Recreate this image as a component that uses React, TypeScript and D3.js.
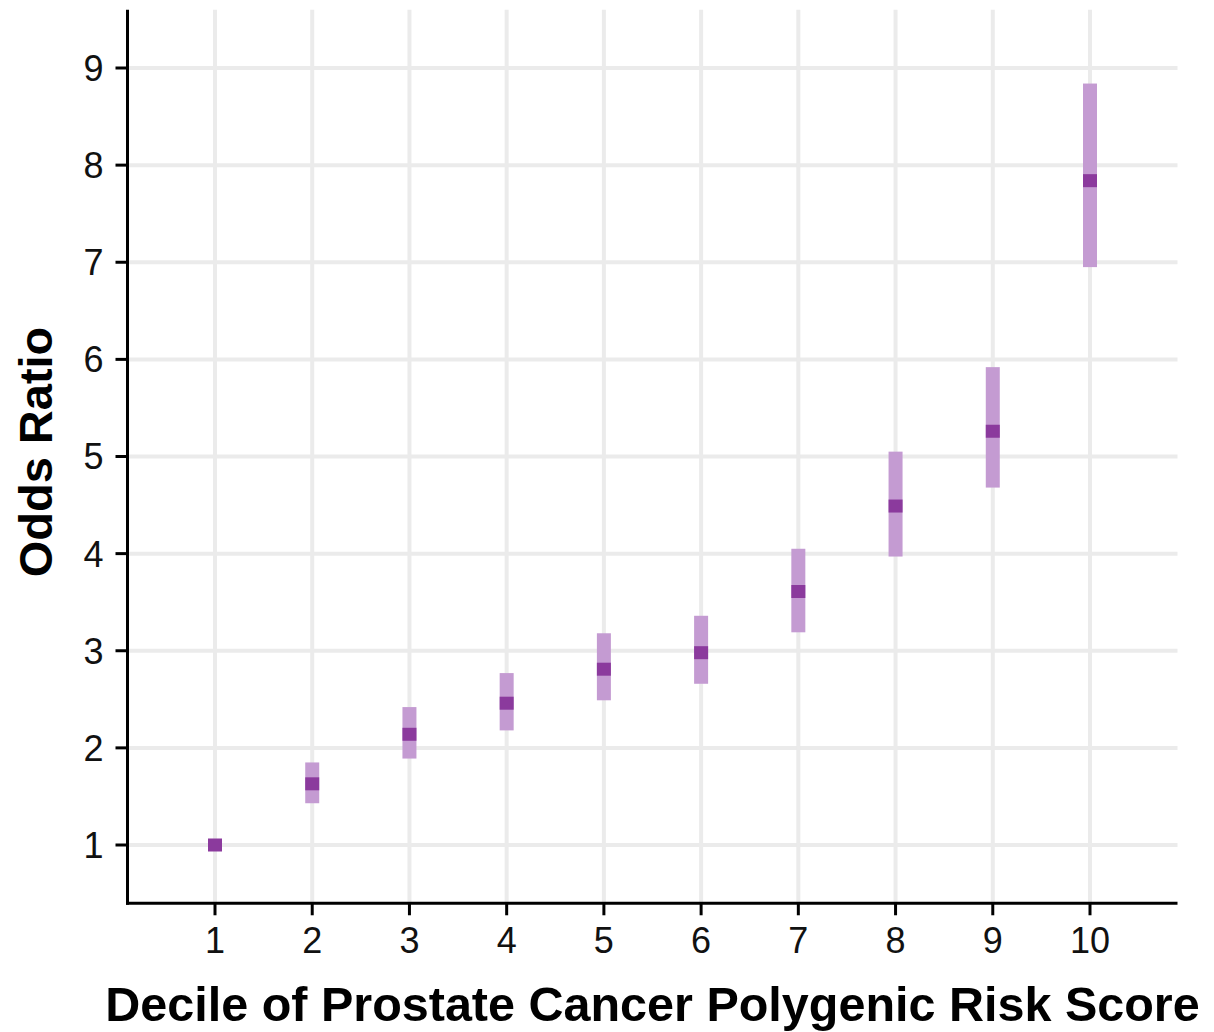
import React from "react";
import * as d3 from "d3";

const deciles = [1, 2, 3, 4, 5, 6, 7, 8, 9, 10];
const oddsRatio = [1.0, 1.63, 2.14, 2.46, 2.81, 2.98, 3.61, 4.49, 5.26, 7.84];
const ciLower = [1.0, 1.43, 1.89, 2.18, 2.49, 2.66, 3.19, 3.97, 4.68, 6.95];
const ciUpper = [1.0, 1.85, 2.42, 2.77, 3.18, 3.36, 4.05, 5.05, 5.92, 8.84];
const yTicks = [1, 2, 3, 4, 5, 6, 7, 8, 9];
const xTitle = "Decile of Prostate Cancer Polygenic Risk Score";
const yTitle = "Odds Ratio";

const W = 1214;
const H = 1032;
const font = "'Liberation Sans', Arial, Helvetica, sans-serif";
const lightColor = "#c49bd2";
const darkColor = "#8b3a9d";
const gridColor = "#ebebeb";

export default function App() {
  const x = d3.scaleLinear().domain([1, 10]).range([215, 1090]);
  const y = d3.scaleLinear().domain([1, 9]).range([845, 68]);
  const xDom = [0.1, 10.9];
  const yDom = [0.4, 9.6];
  const left = x(xDom[0]);
  const right = x(xDom[1]);
  const top = y(yDom[1]);
  const bottom = y(yDom[0]);

  const barW = 14;
  const ptW = 14;
  const ptH = 13;

  return (
    <div style={{ position: "absolute", left: 0, top: 0 }}>
      <svg width={W} height={H} style={{ display: "block", background: "#fff" }}>
        {yTicks.map((t) => (
          <line key={"gy" + t} x1={left} x2={right} y1={y(t)} y2={y(t)} stroke={gridColor} strokeWidth={4} />
        ))}
        {deciles.map((d) => (
          <line key={"gx" + d} x1={x(d)} x2={x(d)} y1={top} y2={bottom} stroke={gridColor} strokeWidth={4} />
        ))}
        {deciles.map((d, i) => (
          <rect
            key={"ci" + d}
            x={x(d) - barW / 2}
            y={y(ciUpper[i])}
            width={barW}
            height={Math.max(0, y(ciLower[i]) - y(ciUpper[i]))}
            fill={lightColor}
          />
        ))}
        {deciles.map((d, i) => (
          <rect
            key={"pt" + d}
            x={x(d) - ptW / 2}
            y={y(oddsRatio[i]) - ptH / 2}
            width={ptW}
            height={ptH}
            fill={darkColor}
          />
        ))}
        <line x1={left} x2={left} y1={top} y2={bottom + 1.5} stroke="#000" strokeWidth={3} />
        <line x1={left - 1.5} x2={right} y1={bottom} y2={bottom} stroke="#000" strokeWidth={3} />
        {yTicks.map((t) => (
          <g key={"yt" + t}>
            <line x1={left - 12} x2={left} y1={y(t)} y2={y(t)} stroke="#000" strokeWidth={3} />
            <text
              x={left - 24}
              y={y(t)}
              dy="0.36em"
              textAnchor="end"
              fontFamily={font}
              fontSize={36}
              fill="#111"
            >
              {t}
            </text>
          </g>
        ))}
        {deciles.map((d) => (
          <g key={"xt" + d}>
            <line x1={x(d)} x2={x(d)} y1={bottom} y2={bottom + 12} stroke="#000" strokeWidth={3} />
            <text x={x(d)} y={953} textAnchor="middle" fontFamily={font} fontSize={36} fill="#111">
              {d}
            </text>
          </g>
        ))}
        <text
          x={(left + right) / 2}
          y={1021}
          textAnchor="middle"
          fontFamily={font}
          fontSize={48.5}
          fontWeight="bold"
          fill="#000"
        >
          {xTitle}
        </text>
        <text
          transform={`translate(52, 452) rotate(-90)`}
          textAnchor="middle"
          fontFamily={font}
          fontSize={47}
          fontWeight="bold"
          fill="#000"
        >
          {yTitle}
        </text>
      </svg>
    </div>
  );
}
